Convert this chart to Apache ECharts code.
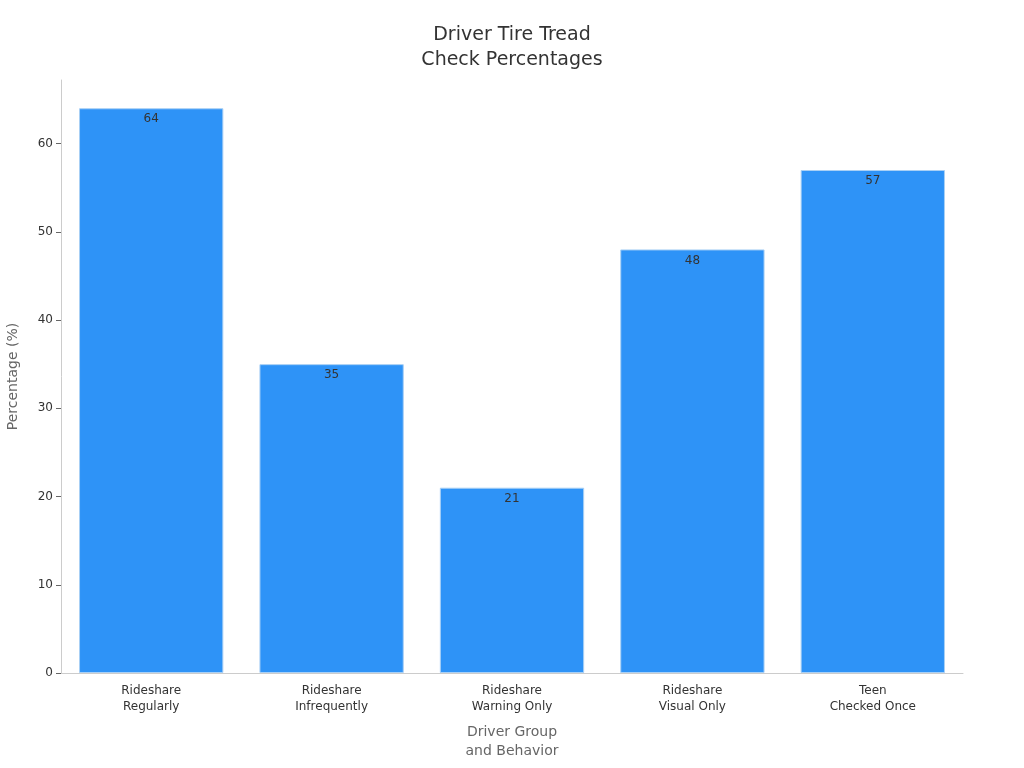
<!DOCTYPE html>
<html>
<head>
<meta charset="utf-8">
<script src="https://cdn.jsdelivr.net/npm/echarts@6/dist/echarts.min.js"></script>
<style>html,body{margin:0;padding:0;background:#fff}#chart{width:1024px;height:768px}</style>
</head>
<body>
<div id="chart"></div>
<script>
var categories = ['Rideshare\nRegularly', 'Rideshare\nInfrequently', 'Rideshare\nWarning Only', 'Rideshare\nVisual Only', 'Teen\nChecked Once'];
var percentages = [64, 35, 21, 48, 57];
var yTicks = [0, 10, 20, 30, 40, 50, 60];

var myChart = echarts.init(document.getElementById('chart'));
var option = {
    textStyle: { fontFamily: 'DejaVu Sans' },
    title: {
        text: 'Driver Tire Tread\nCheck Percentages',
        left: 'center',
        top: 18,
        textStyle: { fontSize: 19, fontWeight: 'normal', color: '#333', lineHeight: 25, fontFamily: 'DejaVu Sans' }
    },
    grid: { left: 61, right: 61, top: 80, bottom: 95, containLabel: false, outerBoundsMode: 'none' },
    xAxis: {
        type: 'category',
        data: categories,
        name: 'Driver Group\nand Behavior',
        nameLocation: 'middle',
        nameGap: 50,
        nameTextStyle: { fontSize: 14, color: '#666', lineHeight: 19 },
        axisLine: { lineStyle: { color: '#ccc' } },
        axisTick: { alignWithLabel: true, lineStyle: { color: '#999' } },
        axisLabel: { fontSize: 12, color: '#333', lineHeight: 16, margin: 10 }
    },
    yAxis: {
        type: 'value',
        min: 0,
        max: 67.2,
        name: 'Percentage (%)',
        nameLocation: 'middle',
        nameGap: 41,
        nameTextStyle: { fontSize: 14, color: '#666' },
        axisLine: { show: true, lineStyle: { color: '#ccc' } },
        axisTick: { show: true, customValues: yTicks, lineStyle: { color: '#666' } },
        splitLine: { show: false },
        axisLabel: { fontSize: 12, color: '#333', customValues: yTicks }
    },
    series: [{
        type: 'bar',
        data: percentages,
        barCategoryGap: '20%',
        itemStyle: { color: '#2E93F7', borderColor: '#a9d0f5', borderWidth: 1 },
        label: {
            show: true,
            position: 'insideTop',
            distance: 5,
            fontSize: 12,
            color: '#333'
        }
    }]
};
myChart.setOption(option);
</script>
</body>
</html>
